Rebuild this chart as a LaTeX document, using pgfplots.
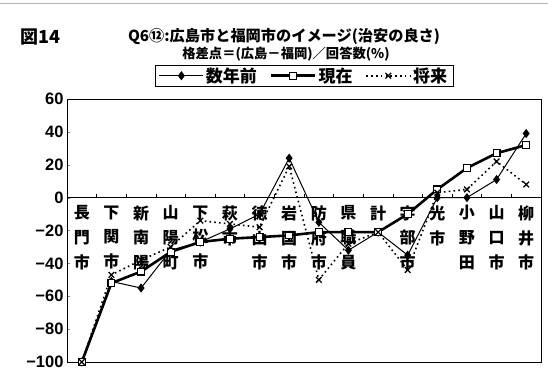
\documentclass[border=0pt]{standalone}
\usepackage{pgfplots}
\pgfplotsset{compat=1.18}
\usepackage{fontspec}
\setmainfont{Noto Sans CJK JP}
\newfontfamily\numfont{Liberation Sans}

% Image-difference scores: Hiroshima minus Fukuoka, per respondent group
\pgfplotstableread{
idx sunen genzai shorai
0  -100 -100 -100
1   -51  -52  -47
2   -55  -45  -38
3   -32  -33  -30
4   -27  -27  -14
5   -19  -25  -16
6   -10  -24  -18
7    24  -23   19
8   -15  -21  -50
9   -32  -21  -28
10  -21  -21  -21
11  -35  -10  -44
12    0    5    3
13    0   18    5
14   11   27   22
15   39   32    8
}\safety

\begin{document}
\begin{tikzpicture}[x=1pt,y=1pt]
\useasboundingbox (0,0) rectangle (548,372);
\draw[gray!60, line width=0.8pt] (0,369) -- (548,369);

% titles
\node[font=\bfseries\fontsize{18}{18}\selectfont] at (40,335) {図14};
\node[font=\bfseries\fontsize{15.2}{15}\selectfont] at (284,335) {Q6⑫:広島市と福岡市のイメージ(治安の良さ)};
\node[font=\bfseries\fontsize{13.3}{14}\selectfont] at (286,318) {格差点＝(広島－福岡)／回答数(\%)};

\begin{axis}[
  at={(67pt,10pt)}, anchor=south west,
  scale only axis, width=474pt, height=263pt,
  xmin=-0.5, xmax=15.5, ymin=-100, ymax=60,
  axis line style={line width=0.9pt},
  ytick={-100,-80,...,60},
  yticklabels={−100,−80,−60,−40,−20,0,20,40,60},
  yticklabel style={font=\numfont\bfseries\fontsize{16.5}{16.5}\selectfont, xshift=0pt},
  ytick pos=left, tick align=inside, major tick length=3pt,
  xtick={0,...,15},
  xticklabels={{長\\門\\市},{下\\関\\市},{新\\南\\陽},{山\\陽\\町},{下\\松\\市},{萩\\市},{徳\\山\\市},{岩\\国\\市},{防\\府\\市},{県\\職\\員},{計},{宇\\部\\市},{光\\市},{小\\野\\田},{山\\口\\市},{柳\\井\\市}},
  x tick style={draw=none},
  xticklabel style={align=center, anchor=north, yshift=160pt,
    font=\bfseries\fontsize{16}{24.8}\selectfont},
  legend columns=3,
  legend style={at={(0.5,1)}, anchor=south, yshift=13pt, draw=black,
    font=\bfseries\fontsize{17}{17}\selectfont, inner ysep=0pt, inner xsep=4pt,
    /tikz/every even column/.append style={column sep=11pt}},
  legend image code/.code={\draw[mark repeat=2, mark phase=2] plot coordinates {(0pt,0pt) (22pt,0pt) (44pt,0pt)};},
  clip=false,
]
% zero line with category separators
\draw[line width=0.9pt] (axis cs:-0.5,0) -- (axis cs:15.5,0);
\pgfplotsinvokeforeach{0.5,1.5,...,14.5}{\draw[line width=0.6pt] (axis cs:#1,0) -- (axis cs:#1,2.4);}

\addplot[black, line width=1pt, mark=diamond*, mark size=3.8pt,
  mark options={solid, fill=black}] table[x=idx, y=sunen] {\safety};
\addlegendentry{数年前}
\addplot[black, line width=2.6pt, mark=square*, mark size=3.4pt,
  mark options={solid, fill=white, draw=black, line width=1.1pt}] table[x=idx, y=genzai] {\safety};
\addlegendentry{現在}
\addplot[black, line width=1.6pt, dash pattern=on 1.6pt off 3.2pt, mark=x, mark size=4pt,
  mark options={solid, line width=1.3pt}] table[x=idx, y=shorai] {\safety};
\addlegendentry{将来}
\end{axis}
\end{tikzpicture}
\end{document}
